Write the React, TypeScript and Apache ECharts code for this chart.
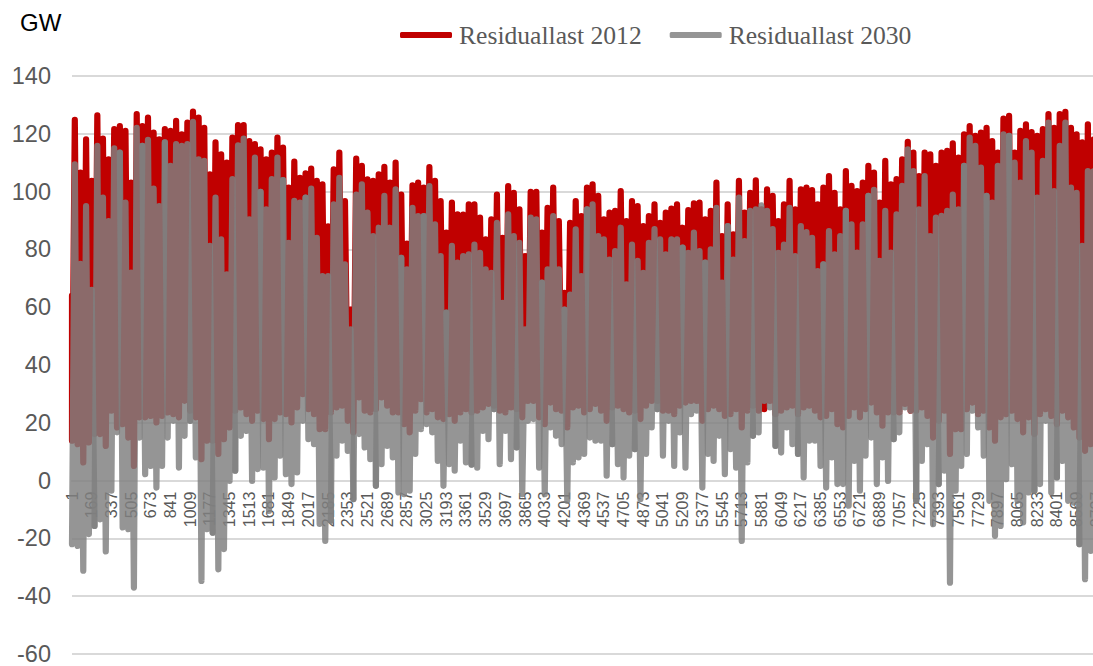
import React, { useEffect, useRef } from "react";
import * as echarts from "echarts";

const hours = Array.from({ length: 8760 }, (_, i) => String(i + 1));
const yMin = -60;
const yMax = 140;
const yStep = 20;
const name2012 = "Residuallast 2012";
const name2030 = "Residuallast 2030";
const first2012 = 64;
const batchHours = 200;

const high2012 = [
  124.8,106.6,118.1,103.7,126.4,118.3,111.2,121.6,122.7,121,
  103.1,126.8,122.7,125.6,120.4,118.1,121.6,121,124.5,119.8,
  123.9,127.7,125.6,122.1,106,117,112.9,110,118.7,123,
  123,117.5,116.4,114.6,111.2,113.5,118.7,115.2,101.4,110.4,
  104.8,106.3,108,103.7,102.5,88,107.7,113.5,96.7,59.2,
  111.4,108.9,104.2,103.7,106,108.6,103.1,110,99,82,
  102.2,103.1,101.4,108.5,103.7,96.7,85.8,96.2,92.1,92,
  95.6,95.6,91,83.5,90.4,99,84,101.9,99.6,93.9,
  77.7,99.9,99.9,85.8,94.4,101.4,89.8,65,89.2,96.7,
  91.5,101.4,102.5,98.5,90.4,92.7,93.3,100.2,89.8,96.7,
  95,88.1,91.5,95.6,89.2,92.7,94.1,95.6,87.5,93.6,
  95.9,96.2,90.4,93.3,103.1,84.6,95.6,85.2,103.7,92.7,
  99.6,103.9,93.9,100.8,98.5,89.8,95.6,103.7,93.9,100.8,
  101.4,100.5,95.6,101.4,105.4,99.6,93.9,107.1,102,100.2,
  103.1,108.9,106.6,96.2,110.6,102.5,104.3,111.2,117.2,113.5,
  105.4,113.5,112.9,108.9,113.5,114.1,116.7,111.8,119.8,122.7,
  119.3,120.4,122.1,117.5,113.5,125.3,126.2,113.5,121,123.3,
  120.6,119.3,121.6,126.8,122.1,126.8,127.6,122.1,119.8,117,
  123.3,118,
];

const low2012 = [
  13.8,12.6,6.3,13.2,16.1,16.1,12,24.2,18.4,19.5,
  14.9,5.1,21.9,21.9,22.4,20.1,22.4,23.6,23,21.9,
  27.6,24.2,21.9,7.4,13.8,13.8,9.2,14.3,18.4,24.2,
  25.3,23,20.7,24.2,21.3,14.3,21.3,23.6,23,20.1,
  25.3,29.9,24.7,23,17.8,17.8,23.6,25.3,25.9,20.7,
  16.7,28.8,24.2,23.6,24.7,28.8,25.9,23.6,23.6,19.5,
  16.7,24.2,28.2,23.6,24.7,21.9,21.3,23,20.7,23.6,
  24.7,23.6,24.2,25.3,26.5,25.9,24.2,23.6,25.3,24.7,
  21.9,27.6,27.6,21.9,19.5,27,24.7,24.2,18.4,25.3,
  25.9,23.6,24.7,26.5,24.2,20.7,25.3,25.9,24.7,23.6,
  24.2,21.3,25.9,27.6,27.6,24.2,24.2,23,25.9,27,
  27.6,27.6,20.7,24.7,25.9,24.7,22.4,23,24.7,18.4,
  24.2,25.9,24.2,24.7,27.6,23,24.2,25.3,25.9,23,
  25.3,25.9,24.2,21.9,22.4,24.7,19.5,18.4,22.4,25.3,
  21.9,24.7,27,23.6,19,23.6,23.6,23.6,26.5,24.2,
  24.2,25.3,22.4,14.9,20.7,24.2,9.2,17.8,17.8,24.7,
  27,23,24.2,18.4,13.8,21.9,23,24.2,21.3,16.7,
  21.9,16.1,23,24.7,22.4,19.5,24.2,21.9,18.4,14.9,
  10.3,12.6,
];

const high2030 = [
  109.4,75,95,66,115.8,97.9,89.8,115,113.5,96.2,
  72,122.1,115.8,117.9,101,95,117,108.9,116.4,115.8,
  116.4,124.1,111.2,110.6,81.2,97.9,83.5,71.4,104.3,116,
  118.3,90.4,111.8,99.9,93.9,104.3,111.8,104,82.3,96.8,
  96.2,97.9,101,84,70.8,70.8,95.6,104.8,74.8,52.3,
  99,102.5,92.7,84.6,87.5,98.5,87.5,100.8,77.1,73.1,
  94.4,91.5,91.5,101.9,88.7,77.7,58.1,81.2,75.4,77.7,
  78.3,81.7,78.8,73.1,71.9,89.2,61.5,92.1,84.6,82.3,
  52.3,91,90.4,68.5,73.1,91.5,73.1,59.2,64.4,86.9,
  70.8,93.9,95.6,84.6,83.5,76.5,79.4,87.5,67.9,81.7,
  76,71.9,82.3,87,83.5,78.3,83.5,83.5,80.6,78.8,
  85.8,79.4,75.4,80,94.4,68.5,88.1,76.5,97.9,82.9,
  93.3,93.9,95.2,93.3,87,78.8,81.7,94.4,77.7,88.1,
  86,84,72.5,74.8,86.3,78.3,84.6,93.3,88.7,78.9,
  88.7,98.5,100.6,76,93.3,78.9,92.1,102,114.6,107.1,
  93.9,105.4,84.6,91,91.6,93.3,99,93.9,108.9,118.7,
  115.8,108.3,98.5,96.2,108.9,119.8,119.3,110,103.1,117.5,
  113.5,97.9,110.6,123.9,100.2,115.8,123.9,101.4,99.6,81.2,
  107.1,107,
];

const low2030 = [
  -22,-22.6,-31.2,-18.5,-15.7,-13.4,-24.5,-3.5,16.7,-16.2,
  -16.8,-37,14.9,2.2,5.1,-2.4,5.1,14.9,20.7,4.5,
  15.5,20.7,8,-34.7,-16.8,-18,-30.7,-23.7,-0.1,3.4,
  15.5,17.2,-0.1,4,4.5,-10.5,1.1,8.6,2.2,-1.2,
  2.8,20.7,14.3,12.6,-15,-20.9,-13.9,8.6,13.8,10.3,
  -6.4,16.1,11.5,7.4,-1.8,5.7,12,8,-4.1,-4.7,
  -3.5,9.2,17.8,19.5,16.7,6.8,-1.8,5.7,3.4,13.8,
  6.3,5.5,4.5,17.2,14.3,24.7,5.7,17.2,7.4,11.5,
  -4.7,20.7,21.3,4.5,-4.7,18.4,15.5,12.6,-7,6.3,
  8,9.2,14.9,13.8,13.8,1.7,12.6,5.7,1.1,8.6,
  10.9,-6.4,9.2,18.4,24.7,8.6,20.7,5.1,16.7,4.5,
  23,24.2,-2.4,9.2,6.8,15.5,2.2,10.9,4.5,-20.9,
  6.3,15.5,16.7,27.6,25.3,12,9.7,18.4,12.6,9.2,
  1.1,13.8,13.8,5.1,-2.4,8,-1.2,-1.2,-8.7,6.8,
  -3.5,8.6,14.9,-1.2,8,-0.1,14.3,16.7,25.3,24.2,
  -7,6.8,12.6,-15.1,-1.2,3.4,-35.3,-3.5,5.1,9.2,
  24.2,18.4,8.6,-7,-19.1,-15.7,0.5,5.7,-7,-14.5,
  -4.1,-3.5,-1.2,20.7,-4.1,1.1,6.8,-7,-7.6,-22,
  -34.1,-24.3,
];

type Pt = [number, number];

const zigzag = (low: number[], high: number[]) => {
  const out: Pt[] = [];
  low.forEach((v, i) => {
    out.push([48 * i, v]);
    out.push([48 * i + 24, high[i]]);
  });
  return out;
};

// The reference draws its translucent line in batches whose ends overlap,
// which leaves a darker streak about every 200 hours.
const batches = (pts: Pt[]) => {
  const out: Pt[][] = [];
  let start = 0;
  for (let h = batchHours; start < pts.length - 1; h += batchHours) {
    const end = Math.min(pts.length - 1, Math.round(h / 24));
    out.push(pts.slice(start, end + 1));
    start = end;
  }
  return out;
};

export default function App() {
  const ref = useRef<HTMLDivElement>(null);
  useEffect(() => {
    const chart = echarts.init(ref.current!, undefined, { renderer: "svg" });
    const lineCommon = { type: "line" as const, showSymbol: false, symbol: "none", smooth: false };
    chart.setOption({
      animation: false,
      backgroundColor: "#ffffff",
      grid: { left: 72, top: 76, width: 1027, height: 578, containLabel: false, outerBoundsMode: "none" },
      legend: {
        left: 395,
        top: 17,
        itemWidth: 52,
        itemHeight: 6,
        itemGap: 28,
        selectedMode: false,
        icon: "roundRect",
        textStyle: { fontFamily: "Liberation Serif", fontSize: 25.6, color: "#595959", padding: [0, 0, 0, 2] },
        data: [
          { name: name2012, itemStyle: { color: "#C00000", opacity: 1 } },
          { name: name2030, itemStyle: { color: "#959595", opacity: 1 } },
        ],
      },
      xAxis: {
        type: "category",
        data: hours,
        boundaryGap: false,
        offset: -173.4,
        axisTick: { show: false },
        axisLine: { onZero: false, lineStyle: { color: "#D9D9D9", width: 2 } },
        splitLine: { show: false },
        axisLabel: {
          interval: 167,
          rotate: 90,
          margin: 11,
          fontFamily: "Liberation Sans",
          fontSize: 16,
          color: "#595959",
          hideOverlap: false,
        },
      },
      yAxis: {
        type: "value",
        min: yMin,
        max: yMax,
        interval: yStep,
        axisLine: { show: false },
        axisTick: { show: false },
        splitLine: { lineStyle: { color: "#D9D9D9", width: 2 } },
        axisLabel: { margin: 21, fontFamily: "Liberation Sans", fontSize: 23.5, color: "#595959" },
      },
      graphic: [
        {
          type: "text",
          left: 20,
          top: 10,
          style: { text: "GW", fontFamily: "Liberation Sans", fontSize: 24, fill: "#000000" },
        },
      ],
      series: [
        {
          ...lineCommon,
          name: name2012,
          data: [[0, first2012] as Pt, ...zigzag(low2012, high2012)],
          itemStyle: { color: "#C00000" },
          lineStyle: { color: "#C00000", width: 6.2, cap: "round", join: "round" },
        },
        ...batches(zigzag(low2030, high2030)).map((data) => ({
          ...lineCommon,
          name: name2030,
          data,
          itemStyle: { color: "#959595" },
          lineStyle: { color: "#7F7F7F", width: 6.2, opacity: 0.83, cap: "round", join: "round" },
        })),
      ],
    });
    return () => chart.dispose();
  }, []);
  return <div ref={ref} style={{ position: "fixed", left: 0, top: 0, width: 1093, height: 666 }} />;
}
